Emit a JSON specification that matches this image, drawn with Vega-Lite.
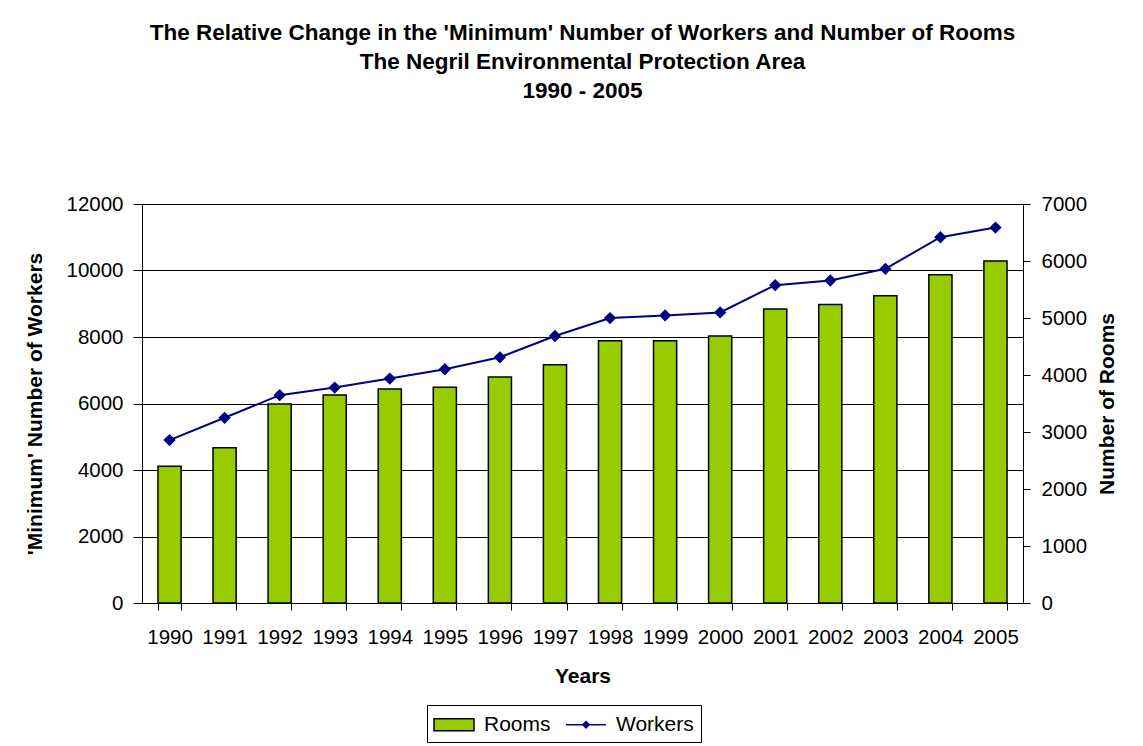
{
  "$schema": "https://vega.github.io/schema/vega-lite/v6.json",
  "width": 881,
  "height": 399,
  "autosize": {"type": "none"},
  "padding": {"left": 142, "top": 204, "right": 120, "bottom": 143},
  "background": "white",
  "title": {
    "text": ["The Relative Change in the 'Minimum' Number of Workers and Number of Rooms", "The Negril Environmental Protection Area", "1990 - 2005"],
    "font": "Liberation Sans",
    "fontSize": 22.5,
    "fontWeight": "bold",
    "color": "black",
    "lineHeight": 29,
    "anchor": "middle",
    "offset": 92
  },
  "data": {
    "values": [
      {"year": "1990", "rooms": 2400, "workers": 4900},
      {"year": "1991", "rooms": 2725, "workers": 5570},
      {"year": "1992", "rooms": 3490, "workers": 6250},
      {"year": "1993", "rooms": 3650, "workers": 6480},
      {"year": "1994", "rooms": 3755, "workers": 6750},
      {"year": "1995", "rooms": 3785, "workers": 7030},
      {"year": "1996", "rooms": 3965, "workers": 7390},
      {"year": "1997", "rooms": 4180, "workers": 8030},
      {"year": "1998", "rooms": 4600, "workers": 8570},
      {"year": "1999", "rooms": 4600, "workers": 8650},
      {"year": "2000", "rooms": 4685, "workers": 8740},
      {"year": "2001", "rooms": 5160, "workers": 9560},
      {"year": "2002", "rooms": 5235, "workers": 9700},
      {"year": "2003", "rooms": 5390, "workers": 10050},
      {"year": "2004", "rooms": 5760, "workers": 11000},
      {"year": "2005", "rooms": 6000, "workers": 11290}
    ]
  },
  "encoding": {
    "x": {
      "field": "year",
      "type": "ordinal",
      "scale": {"paddingInner": 0.58, "paddingOuter": 0.29},
      "axis": {
        "title": "Years",
        "labelAngle": 0,
        "labelOverlap": false,
        "tickBand": "extent",
        "tickSize": 7,
        "labelPadding": 17,
        "titlePadding": 18,
        "grid": false
      }
    }
  },
  "layer": [
    {
      "mark": {"type": "bar", "stroke": "black", "strokeWidth": 1.5},
      "encoding": {
        "y": {
          "field": "rooms",
          "type": "quantitative",
          "scale": {"domain": [0, 7000], "nice": false},
          "axis": {
            "orient": "right",
            "title": "Number of Rooms",
            "titleAngle": 270,
            "titleBaseline": "top",
            "values": [0, 1000, 2000, 3000, 4000, 5000, 6000, 7000],
            "format": "d",
            "grid": false,
            "tickSize": 7,
            "labelPadding": 11,
            "titlePadding": 10
          }
        },
        "color": {
          "datum": "Rooms",
          "scale": {"domain": ["Rooms", "Workers"], "range": ["#99CC00", "#000080"]},
          "legend": {
            "title": null,
            "orient": "none",
            "direction": "horizontal",
            "legendX": 285,
            "legendY": 501,
            "padding": 7,
            "strokeColor": "black",
            "fillColor": "white",
            "symbolSize": 529,
            "symbolOffset": 7.5,
            "symbolStrokeWidth": 1.5,
            "symbolOpacity": 1,
            "labelFontSize": 21,
            "labelFont": "Liberation Sans",
            "labelColor": "black",
            "labelOffset": 17.5,
            "columnPadding": 12
          }
        }
      }
    },
    {
      "mark": {"type": "line", "strokeWidth": 2, "point": {"shape": "diamond", "size": 90, "filled": true, "color": "#000080", "opacity": 1}},
      "encoding": {
        "y": {
          "field": "workers",
          "type": "quantitative",
          "scale": {"domain": [0, 12000], "nice": false},
          "axis": {
            "orient": "left",
            "title": "'Minimum' Number of Workers",
            "values": [0, 2000, 4000, 6000, 8000, 10000, 12000],
            "format": "d",
            "grid": true,
            "tickSize": 9,
            "labelPadding": 10,
            "titlePadding": 20
          }
        },
        "stroke": {
          "datum": "Workers",
          "scale": {"domain": ["Rooms", "Workers"], "range": ["black", "#000080"]}
        }
      }
    },
    {
      "transform": [{"filter": "false"}],
      "mark": {"type": "point", "filled": true},
      "encoding": {
        "shape": {
          "datum": "Workers",
          "scale": {"domain": ["Rooms", "Workers"], "range": ["M-1.739,-0.52H1.739V0.52H-1.739Z", "M-1.739,0H1.739M-0.27,0L0,-0.27L0.27,0L0,0.27Z"]}
        }
      }
    }
  ],
  "resolve": {"scale": {"y": "independent"}},
  "config": {
    "font": "Liberation Sans",
    "view": {"stroke": null},
    "legend": {"symbolOpacity": 1},
    "axis": {
      "labelFont": "Liberation Sans",
      "labelFontSize": 20.5,
      "labelColor": "black",
      "titleFont": "Liberation Sans",
      "titleFontSize": 21,
      "titleFontWeight": "bold",
      "titleColor": "black",
      "domainColor": "black",
      "domainWidth": 1,
      "tickColor": "black",
      "gridColor": "black",
      "gridOpacity": 1,
      "gridWidth": 1
    }
  }
}
